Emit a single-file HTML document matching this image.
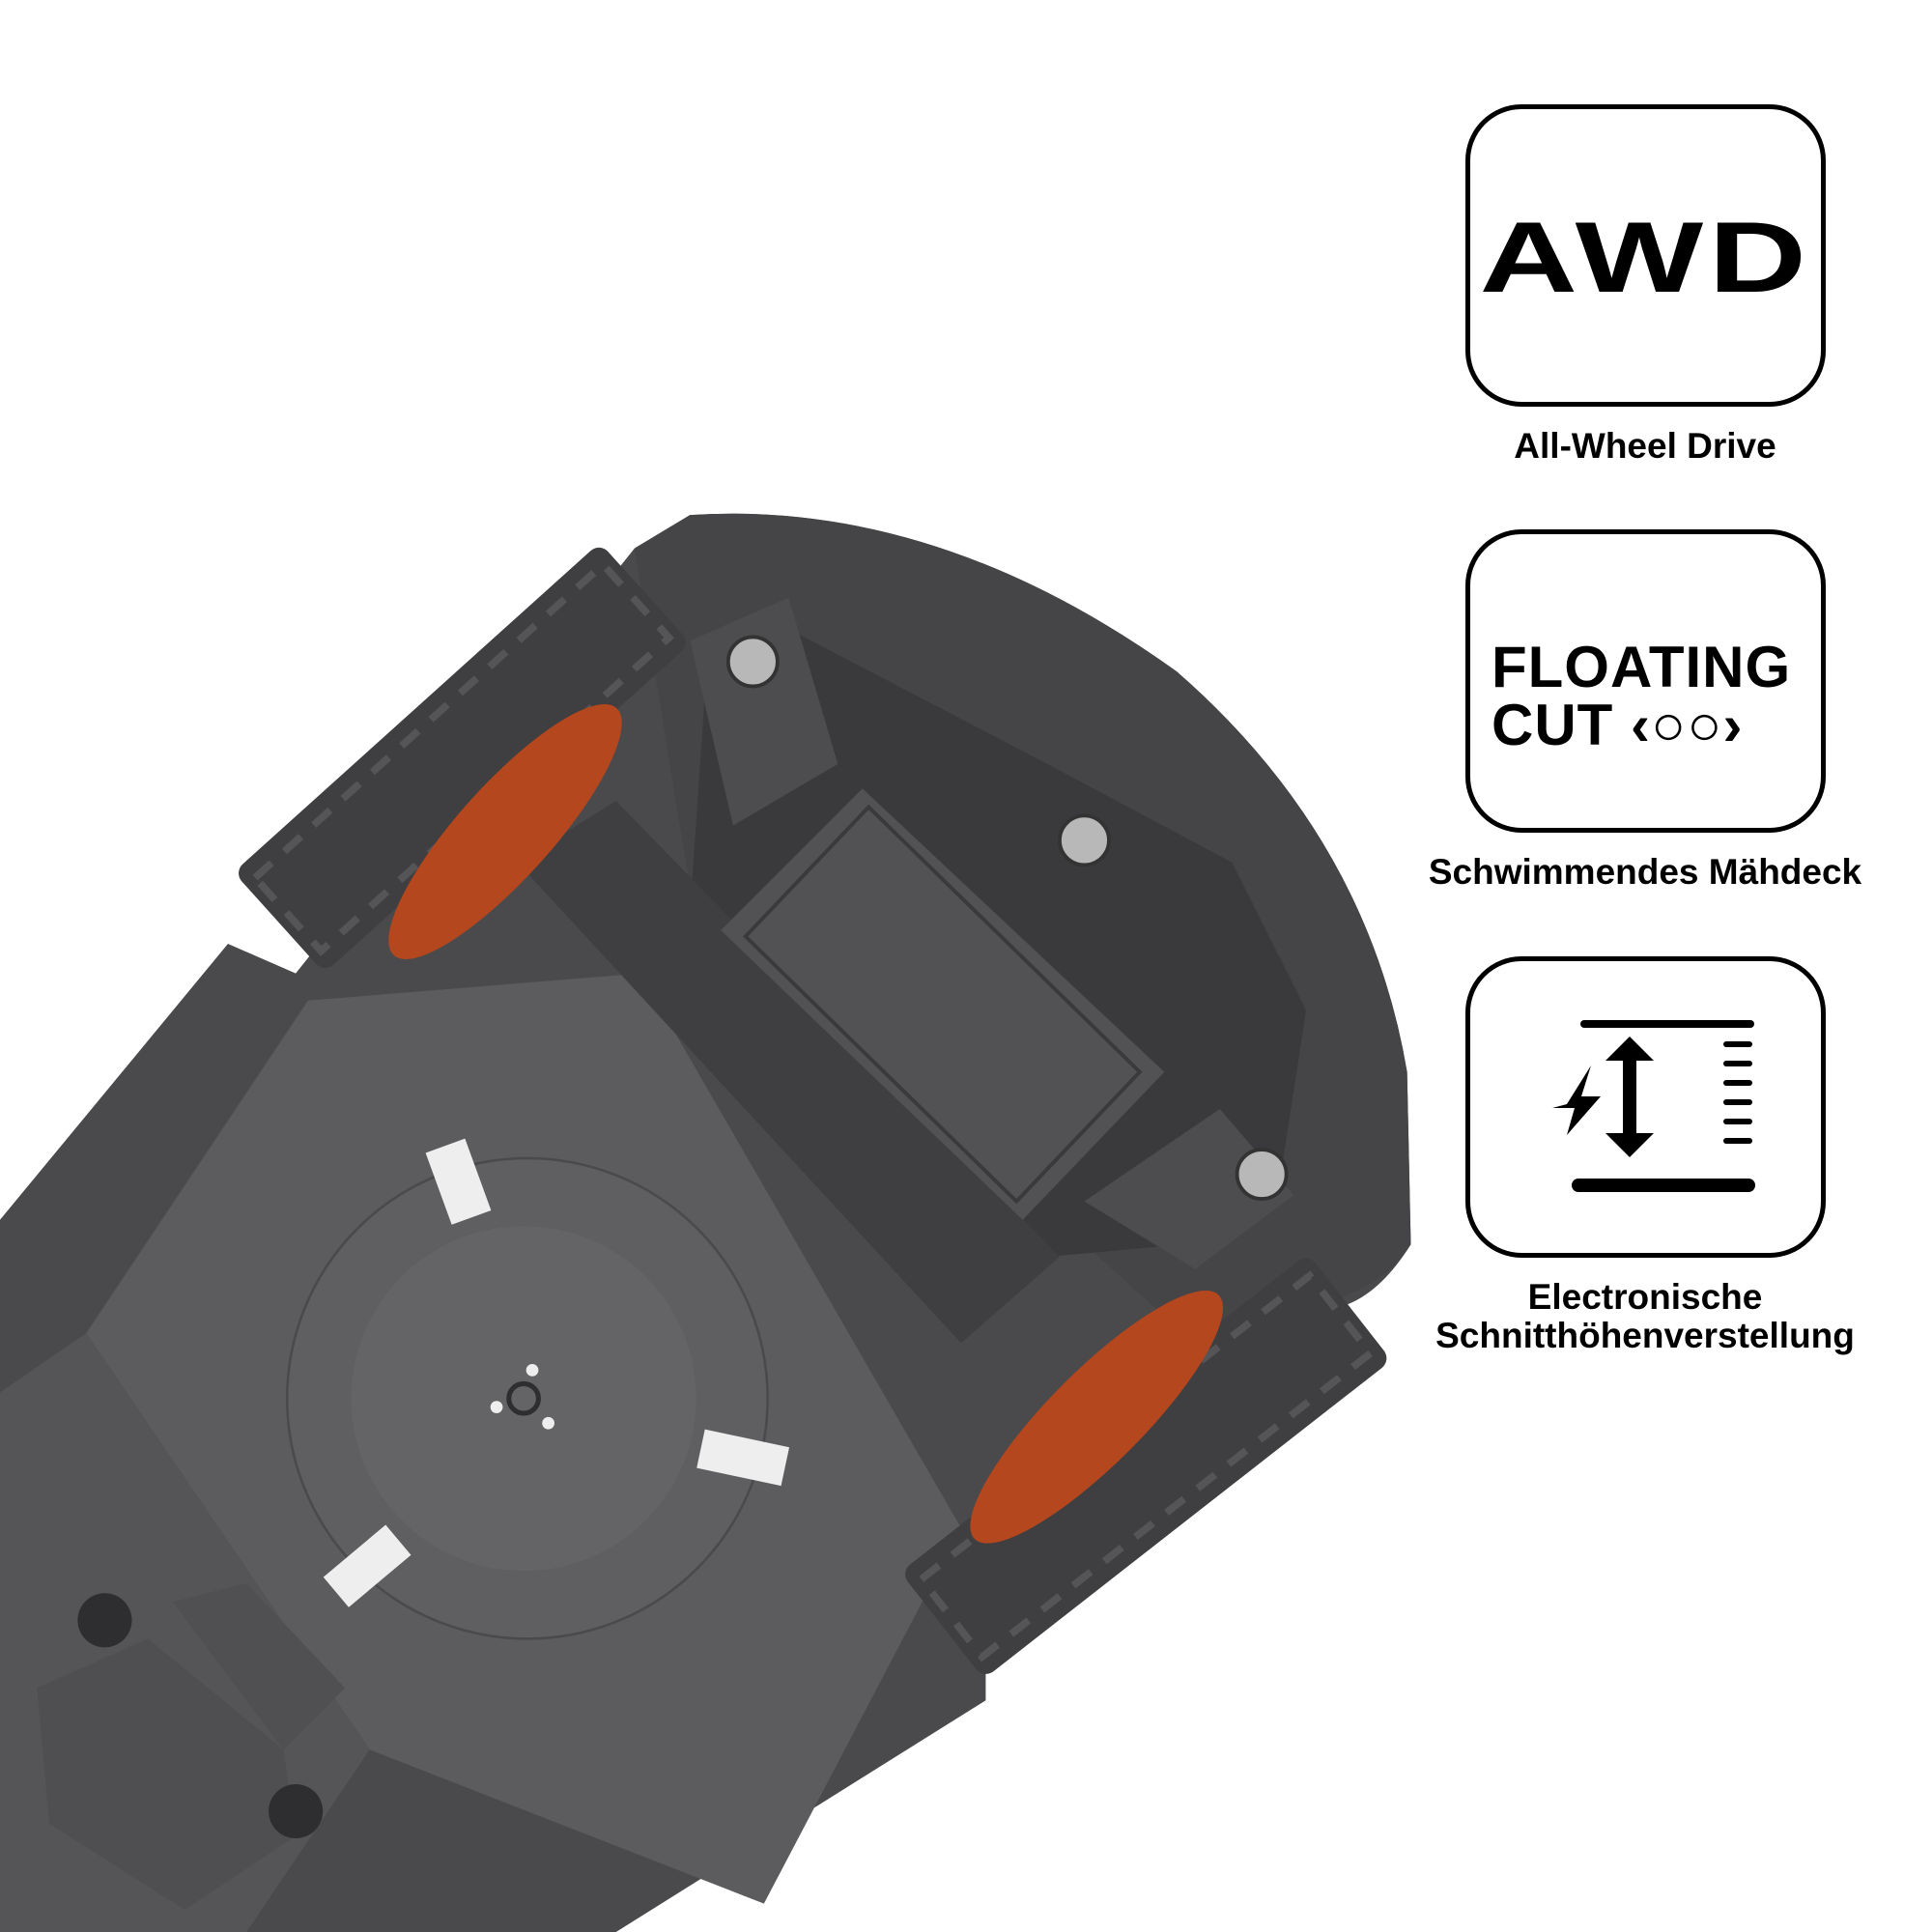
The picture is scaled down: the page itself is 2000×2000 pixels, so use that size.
<!DOCTYPE html>
<html><head><meta charset="utf-8"><style>
html,body{margin:0;padding:0;background:#fff;}
body{width:2000px;height:2000px;position:relative;overflow:hidden;font-family:"Liberation Sans",sans-serif;}
.box{position:absolute;left:1517px;width:363px;border:5px solid #000;border-radius:58px;box-sizing:content-box;}
.lbl{position:absolute;left:1440px;width:526px;text-align:center;font-weight:bold;font-size:37px;color:#000;line-height:40px;}
svg{position:absolute;left:0;top:0;}
</style></head><body>
<svg width="2000" height="2000" viewBox="0 0 1568 1568">
 <!-- base -->
 <path d="M0,990 L185,766 L240,790 L515,445 L560,418 Q760,405 955,545 Q1110,680 1142,870 L1145,1010 Q1120,1050 1090,1060 L800,1300 L800,1380 L500,1568 L0,1568 Z" fill="#4a4a4c"/>
 <polygon points="70,1082 250,812 520,790 780,1240 620,1545 300,1420" fill="#5c5b5d"/>
 <polygon points="0,1130 70,1082 300,1420 200,1568 0,1568" fill="#555456"/>
 <circle cx="428" cy="1135" r="195" fill="#5f5e60" stroke="#4a4a4c" stroke-width="2"/>
 <circle cx="425" cy="1135" r="140" fill="#646365"/>
 <circle cx="425" cy="1135" r="12" fill="none" stroke="#2e2e30" stroke-width="4"/>
 <circle cx="432" cy="1112" r="5" fill="#eee"/><circle cx="403" cy="1142" r="5" fill="#eee"/><circle cx="445" cy="1155" r="5" fill="#eee"/>
 <rect x="355" y="928" width="34" height="62" fill="#eee" transform="rotate(-20 372 959)"/>
 <rect x="568" y="1167" width="70" height="32" fill="#eee" transform="rotate(12 603 1183)"/>
 <rect x="265" y="1255" width="66" height="32" fill="#eee" transform="rotate(-40 298 1271)"/>
 <polygon points="30,1370 120,1330 230,1420 240,1490 150,1550 40,1480" fill="#4f4e50"/>
 <polygon points="140,1300 200,1285 280,1370 230,1420" fill="#505052"/>
 <circle cx="85" cy="1315" r="22" fill="#2e2e30"/><circle cx="240" cy="1470" r="22" fill="#2e2e30"/>
 <!-- head -->
 <path d="M515,445 L560,418 Q760,405 955,545 Q1110,680 1142,870 L1145,1010 Q1120,1050 1060,1060 L980,1100 L560,720 Z" fill="#454446"/>
 <path d="M575,520 L620,500 L850,620 L1000,700 L1060,820 L1040,950 L960,1010 L850,1020 L560,740 Z" fill="#3a393b"/>
 <polygon points="420,700 500,650 860,1020 780,1090" fill="#3f3e40"/>
 <polygon points="585,755 700,640 945,870 830,990" fill="#525153"/>
 <polygon points="605,760 705,655 925,870 825,975" fill="none" stroke="#3a393b" stroke-width="3"/>
 <polygon points="560,520 640,485 680,620 595,670" fill="#4d4c4e"/>
 <polygon points="880,975 990,900 1050,970 970,1030" fill="#4d4c4e"/>
 <circle cx="611" cy="537" r="20" fill="#b8b8b8" stroke="#333" stroke-width="3"/>
 <circle cx="880" cy="682" r="20" fill="#b8b8b8" stroke="#333" stroke-width="3"/>
 <circle cx="1024" cy="953" r="20" fill="#b8b8b8" stroke="#333" stroke-width="3"/>
 <!-- wheels -->
 <rect x="175" y="560" width="400" height="110" rx="10" fill="#3f3e40" transform="rotate(-42 375 615)"/>
 <rect x="185" y="575" width="380" height="80" fill="none" stroke="#555456" stroke-width="6" stroke-dasharray="18 14" transform="rotate(-42 375 615)"/>
 <ellipse cx="410" cy="675" rx="38" ry="135" fill="#b4471d" transform="rotate(42 410 675)"/>
 <rect x="720" y="1135" width="420" height="110" rx="10" fill="#3f3e40" transform="rotate(-38 930 1190)"/>
 <rect x="730" y="1150" width="400" height="80" fill="none" stroke="#555456" stroke-width="6" stroke-dasharray="18 14" transform="rotate(-38 930 1190)"/>
 <ellipse cx="890" cy="1150" rx="38" ry="140" fill="#b4471d" transform="rotate(45 890 1150)"/>
</svg>
<div class="box" style="top:108px;height:303px;"><div style="position:absolute;left:0;right:0;top:95px;text-align:center;font-weight:bold;font-size:104px;letter-spacing:4px;transform:scaleX(1.35);">AWD</div></div>
<div class="lbl" style="top:442px;">All-Wheel Drive</div>
<div class="box" style="top:548px;height:304px;"><div style="position:absolute;left:22px;top:108px;font-weight:bold;font-size:60px;line-height:60px;letter-spacing:1px;">FLOATING<br>CUT ‹○○›</div></div>
<div class="lbl" style="top:883px;">Schwimmendes Mähdeck</div>
<div class="box" style="top:990px;height:302px;">
 <svg width="363" height="302" viewBox="0 0 363 302" style="position:absolute;left:0;top:0;">
  <rect x="114" y="61" width="180" height="8" rx="4" fill="#000"/>
  <rect x="105" y="225" width="190" height="14" rx="7" fill="#000"/>
  <polygon points="100,148 125,108 115,140 135,140 100,180 108,152 85,152" fill="#000"/>
  <polygon points="165,78 190,103 172,103 172,178 190,178 165,203 140,178 158,178 158,103 140,103" fill="#000"/>
  <g fill="#000"><rect x="262" y="83" width="30" height="6" rx="3"/><rect x="262" y="103" width="30" height="6" rx="3"/><rect x="262" y="123" width="30" height="6" rx="3"/><rect x="262" y="143" width="30" height="6" rx="3"/><rect x="262" y="163" width="30" height="6" rx="3"/><rect x="262" y="183" width="30" height="6" rx="3"/></g>
 </svg>
</div>
<div class="lbl" style="top:1323px;">Electronische<br>Schnitthöhenverstellung</div>
</body></html>
